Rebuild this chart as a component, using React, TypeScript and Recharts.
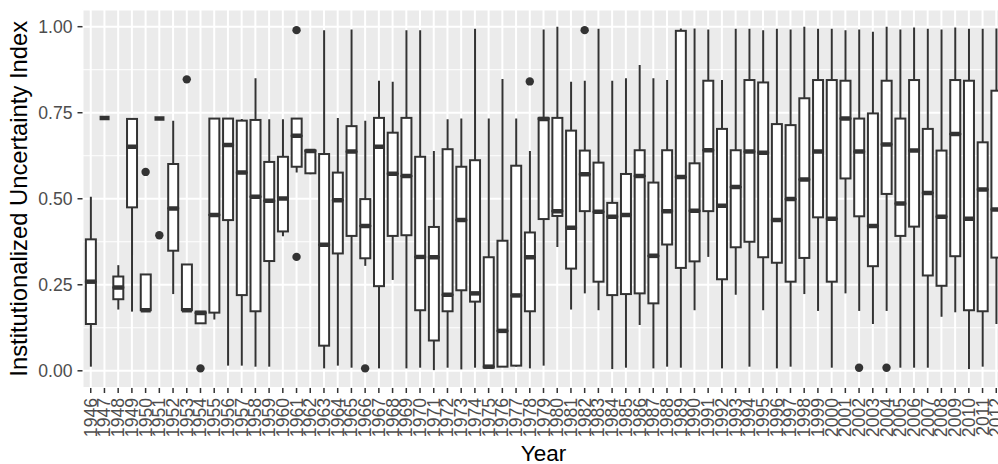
import { ComposedChart, Bar, Line, XAxis, YAxis, CartesianGrid } from 'recharts';

const years = [
  '1946', '1947', '1948', '1949', '1950', '1951', '1952', '1953', '1954', '1955',
  '1956', '1957', '1958', '1959', '1960', '1961', '1962', '1963', '1964', '1965',
  '1966', '1967', '1968', '1969', '1970', '1971', '1972', '1973', '1974', '1975',
  '1976', '1977', '1978', '1979', '1980', '1981', '1982', '1983', '1984', '1985',
  '1986', '1987', '1988', '1989', '1990', '1991', '1992', '1993', '1994', '1995',
  '1996', '1997', '1998', '1999', '2000', '2001', '2002', '2003', '2004', '2005',
  '2006', '2007', '2008', '2009', '2010', '2011', '2012',
];

const lowerWhisker = [
  0.012, 0.735, 0.178, 0.172, 0.176, 0.733, 0.223, 0.176, 0.138, 0.149,
  0.015, 0.015, 0.012, 0.012, 0.391, 0.576, 0.571, 0.007, 0.015, 0.009,
  0.305, 0.007, 0.264, 0.007, 0.009, 0.002, 0.009, 0.004, 0.009, 0.009,
  0.012, 0.012, 0.007, 0.015, 0.360, 0.178, 0.225, 0.176, 0.005, 0.009,
  0.133, 0.007, 0.012, 0.009, 0.176, 0.331, 0.007, 0.221, 0.012, 0.176,
  0.007, 0.012, 0.223, 0.174, 0.009, 0.225, 0.174, 0.136, 0.174, 0.009,
  0.009, 0.009, 0.157, 0.170, 0.005, 0.012, 0.136,
];

const q1 = [
  0.136, 0.735, 0.208, 0.475, 0.176, 0.733, 0.349, 0.176, 0.138, 0.169,
  0.438, 0.220, 0.173, 0.319, 0.405, 0.593, 0.574, 0.073, 0.341, 0.392,
  0.327, 0.246, 0.392, 0.394, 0.176, 0.088, 0.173, 0.234, 0.201, 0.009,
  0.012, 0.015, 0.173, 0.441, 0.450, 0.297, 0.464, 0.259, 0.220, 0.223,
  0.225, 0.196, 0.367, 0.299, 0.318, 0.464, 0.266, 0.359, 0.375, 0.330,
  0.314, 0.259, 0.328, 0.446, 0.259, 0.559, 0.449, 0.304, 0.514, 0.392,
  0.419, 0.277, 0.247, 0.333, 0.176, 0.173, 0.329,
];

const median = [
  0.259, 0.735, 0.242, 0.651, 0.176, 0.733, 0.472, 0.176, 0.168, 0.453,
  0.656, 0.576, 0.506, 0.494, 0.501, 0.683, 0.639, 0.366, 0.496, 0.637,
  0.421, 0.651, 0.573, 0.566, 0.331, 0.330, 0.221, 0.438, 0.225, 0.012,
  0.116, 0.219, 0.330, 0.732, 0.464, 0.416, 0.571, 0.462, 0.448, 0.453,
  0.566, 0.334, 0.464, 0.563, 0.465, 0.641, 0.480, 0.534, 0.637, 0.634,
  0.438, 0.499, 0.556, 0.637, 0.442, 0.733, 0.637, 0.421, 0.658, 0.486,
  0.640, 0.517, 0.448, 0.688, 0.442, 0.527, 0.469,
];

const q3 = [
  0.382, 0.735, 0.274, 0.732, 0.280, 0.733, 0.601, 0.309, 0.172, 0.733,
  0.733, 0.727, 0.729, 0.607, 0.622, 0.733, 0.641, 0.630, 0.576, 0.711,
  0.499, 0.735, 0.692, 0.735, 0.622, 0.418, 0.644, 0.593, 0.612, 0.330,
  0.378, 0.596, 0.402, 0.735, 0.735, 0.698, 0.640, 0.605, 0.488, 0.572,
  0.641, 0.547, 0.641, 0.988, 0.603, 0.843, 0.703, 0.641, 0.845, 0.838,
  0.717, 0.714, 0.792, 0.845, 0.845, 0.843, 0.733, 0.748, 0.843, 0.733,
  0.845, 0.703, 0.640, 0.845, 0.843, 0.664, 0.814,
];

const upperWhisker = [
  0.506, 0.735, 0.307, 0.732, 0.280, 0.733, 0.727, 0.309, 0.172, 0.733,
  0.733, 0.732, 0.850, 0.731, 0.731, 0.733, 0.641, 0.990, 0.735, 0.992,
  0.727, 0.843, 0.840, 0.990, 0.990, 0.639, 0.731, 0.733, 0.994, 0.733,
  0.848, 0.733, 0.639, 0.992, 1.000, 0.840, 0.843, 0.994, 0.843, 0.850,
  0.889, 0.850, 0.845, 0.995, 0.995, 0.992, 0.845, 0.994, 0.994, 0.990,
  0.994, 0.992, 1.000, 0.994, 0.994, 0.990, 0.992, 0.985, 1.000, 0.992,
  0.998, 0.994, 0.992, 0.998, 0.994, 0.994, 0.995,
];

const outlierYears = ['1950', '1951', '1953', '1954', '1961', '1961', '1966', '1978', '1982', '2002', '2004'];
const outlierValues = [0.578, 0.394, 0.847, 0.007, 0.990, 0.331, 0.007, 0.841, 0.990, 0.009, 0.009];

const yTicks = [0, 0.25, 0.5, 0.75, 1];
const yMinorTicks = [0.125, 0.375, 0.625, 0.875];

const INK = '#333333';
const FONT = '"Liberation Sans", Arial, sans-serif';

// stacked segments: invisible base, lower whisker, lower box, upper box, upper whisker
const chartData = years.map((year, i) => {
  const row: any = {
    year,
    base: lowerWhisker[i],
    lowW: q1[i] - lowerWhisker[i],
    lowBox: median[i] - q1[i],
    highBox: q3[i] - median[i],
    highW: upperWhisker[i] - q3[i],
    outA: null,
    outB: null,
  };
  outlierYears.forEach((y, k) => {
    if (y !== year) return;
    if (row.outA === null) row.outA = outlierValues[k];
    else row.outB = outlierValues[k];
  });
  return row;
});

const Empty = () => <g />;

const Whisker = (props: any) => {
  const { x, y, width, height } = props;
  const cx = x + width / 2;
  return <line x1={cx} x2={cx} y1={y} y2={y + height} stroke={INK} strokeWidth={2} />;
};

const LowerBox = (props: any) => {
  const { x, y, width, height } = props;
  return <rect x={x} y={y} width={width} height={Math.max(0, height)} fill="#fff" stroke={INK} strokeWidth={2} />;
};

// the median is drawn with the upper box so no fill paints over it
const UpperBox = (props: any) => {
  const { x, y, width, height } = props;
  const h = Math.max(0, height);
  return (
    <g>
      <rect x={x} y={y} width={width} height={h} fill="#fff" stroke={INK} strokeWidth={2} />
      <line x1={x} x2={x + width} y1={y + h} y2={y + h} stroke={INK} strokeWidth={4.5} />
    </g>
  );
};

const OutlierDot = (props: any) => {
  const { cx, cy, index, value } = props;
  if (value == null || cy == null || isNaN(cy)) return <g key={`e${index}`} />;
  return <circle key={`o${index}`} cx={cx} cy={cy} r={4.2} fill={INK} />;
};

const YearTick = (props: any) => {
  const { x, y, payload } = props;
  const ty = y + 3;
  return (
    <text
      x={x}
      y={ty}
      transform={`rotate(-90, ${x}, ${ty})`}
      textAnchor="end"
      dominantBaseline="central"
      fontSize={17.6}
      fontFamily={FONT}
      fill="#4D4D4D"
    >
      {payload.value}
    </text>
  );
};

export default function App() {
  return (
    <div style={{ position: 'fixed', left: 0, top: 0, width: 998, height: 464, overflow: 'hidden', background: '#fff' }}>
      <ComposedChart
        width={1010}
        height={464}
        data={chartData}
        margin={{ top: 9.5, right: 5.5, left: 0, bottom: 0 }}
      >
        <CartesianGrid fill="#EBEBEB" stroke="#fff" strokeWidth={2} />
        <CartesianGrid yAxisId="minor" vertical={false} stroke="#fff" strokeWidth={1} />
        <XAxis
          dataKey="year"
          interval={0}
          height={76}
          padding={{ left: 1.37, right: 1.37 }}
          axisLine={false}
          tickSize={5}
          tickLine={{ stroke: INK, strokeWidth: 1.5 }}
          tick={<YearTick />}
          label={{ value: 'Year', position: 'insideBottom', offset: 3, style: { fill: '#000', fontSize: 22.5, fontFamily: FONT } }}
        />
        <YAxis
          type="number"
          domain={[-0.05, 1.05]}
          ticks={yTicks}
          allowDataOverflow
          width={82.5}
          axisLine={false}
          tickSize={5}
          tickMargin={5}
          tickLine={{ stroke: INK, strokeWidth: 1.5 }}
          tickFormatter={(v: number) => v.toFixed(2)}
          tick={{ fill: '#4D4D4D', fontSize: 17.6, fontFamily: FONT }}
          label={{
            value: 'Institutionalized Uncertainty Index',
            angle: -90,
            position: 'insideLeft',
            offset: 19,
            style: { textAnchor: 'middle', fill: '#000', fontSize: 23.8, fontFamily: FONT },
          }}
        />
        <YAxis yAxisId="minor" type="number" domain={[-0.05, 1.05]} ticks={yMinorTicks} allowDataOverflow hide />
        <Bar dataKey="base" stackId="box" barSize={10} shape={<Empty />} isAnimationActive={false} />
        <Bar dataKey="lowW" stackId="box" barSize={10} shape={<Whisker />} isAnimationActive={false} />
        <Bar dataKey="lowBox" stackId="box" barSize={10} shape={<LowerBox />} isAnimationActive={false} />
        <Bar dataKey="highBox" stackId="box" barSize={10} shape={<UpperBox />} isAnimationActive={false} />
        <Bar dataKey="highW" stackId="box" barSize={10} shape={<Whisker />} isAnimationActive={false} />
        <Line dataKey="outA" stroke="none" dot={OutlierDot} activeDot={false} isAnimationActive={false} />
        <Line dataKey="outB" stroke="none" dot={OutlierDot} activeDot={false} isAnimationActive={false} />
      </ComposedChart>
    </div>
  );
}
